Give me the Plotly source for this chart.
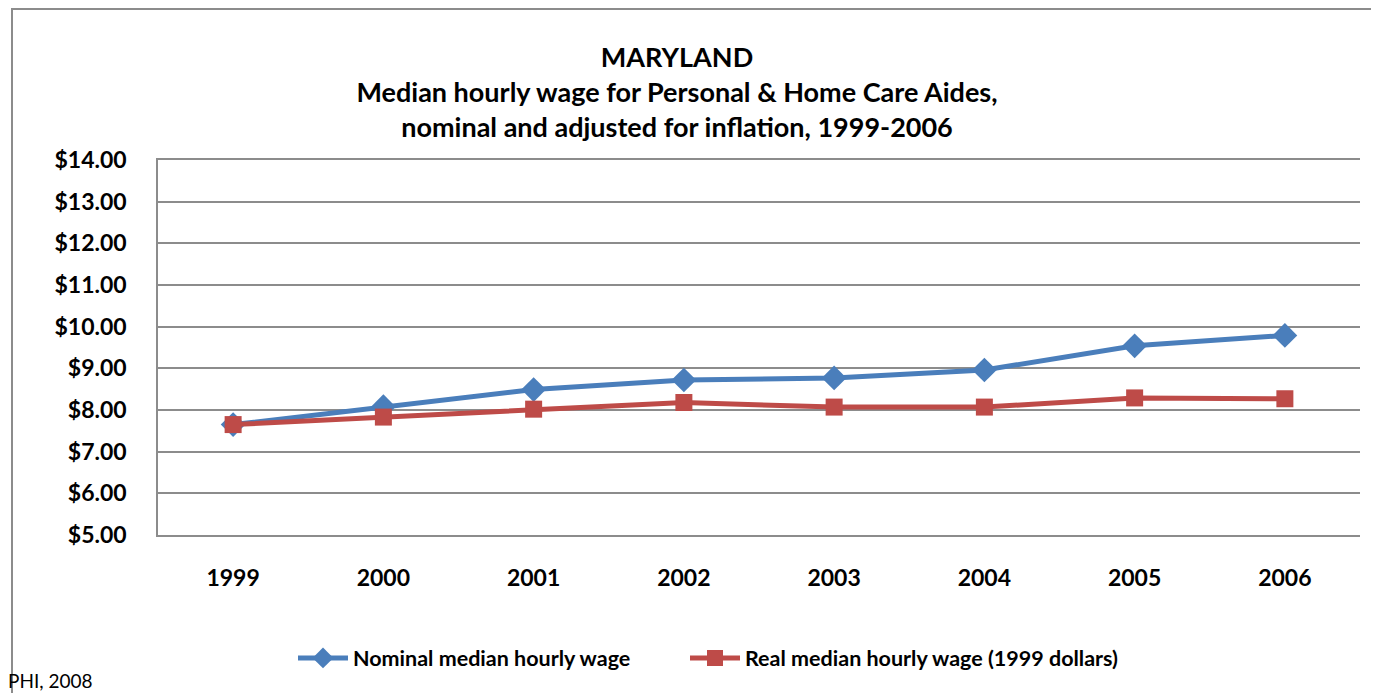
import plotly.graph_objects as go

years = ["1999", "2000", "2001", "2002", "2003", "2004", "2005", "2006"]
nominal = [7.65, 8.08, 8.49, 8.72, 8.77, 8.96, 9.54, 9.79]
real = [7.65, 7.83, 8.02, 8.18, 8.07, 8.07, 8.29, 8.27]
yticks = [5, 6, 7, 8, 9, 10, 11, 12, 13, 14]
ytick_text = ["$%.2f" % v for v in yticks]

FONT = "Lato"
GRAY = "#8C8C8C"

# plot area in container pixels (page is offset by ~8px body margin)
L, R, T, B = 150, 27, 152, 166
W, H = 1379, 693
PW, PH = W - L - R, H - T - B

fig = go.Figure()
fig.add_trace(go.Scatter(
    x=years, y=nominal, name="Nominal median hourly wage",
    mode="lines+markers", legend="legend",
    line=dict(color="#4A7EBB", width=5),
    marker=dict(symbol="diamond", size=19, color="#4A7EBB"),
))
fig.add_trace(go.Scatter(
    x=years, y=real, name="Real median hourly wage (1999 dollars)",
    mode="lines+markers", legend="legend2",
    line=dict(color="#BE4B48", width=5),
    marker=dict(symbol="square", size=17, color="#BE4B48"),
))

legend_font = dict(size=21.5, family=FONT, color="black", weight="bold")

fig.update_layout(
    width=W, height=H,
    margin=dict(l=L, r=R, t=T, b=B),
    paper_bgcolor="white", plot_bgcolor="white",
    font=dict(family=FONT, color="black"),
    title=dict(
        text="<b>MARYLAND<br>Median hourly wage for Personal & Home Care Aides,<br>nominal and adjusted for inflation, 1999-2006</b>",
        x=669 / W, xanchor="center", y=1 - 59 / H, yanchor="top",
        font=dict(size=27, family=FONT, color="black"),
    ),
    showlegend=True,
    legend=dict(
        orientation="h", x=285 / W, xanchor="left", xref="container",
        y=1 - 650 / H, yanchor="middle", yref="container",
        font=legend_font, itemwidth=50,
    ),
    legend2=dict(
        orientation="h", x=677 / W, xanchor="left", xref="container",
        y=1 - 650 / H, yanchor="middle", yref="container",
        font=legend_font, itemwidth=50,
    ),
    xaxis=dict(
        type="category", range=[-0.5, 7.5], showgrid=False,
        showline=True, mirror=True, linecolor=GRAY, linewidth=1.5,
        ticks="",
        tickfont=dict(size=23, family=FONT, weight="bold"),
        ticklabelstandoff=22,
    ),
    yaxis=dict(
        range=[5, 14], tickvals=yticks, ticktext=ytick_text,
        showgrid=True, gridcolor=GRAY, gridwidth=1.5,
        showline=True, linecolor=GRAY, linewidth=1.5,
        zeroline=False, ticks="",
        tickfont=dict(size=23, family=FONT, weight="bold"),
        ticklabelstandoff=25,
    ),
)

# outer chart border
fig.add_shape(
    type="rect", xref="paper", yref="paper",
    x0=(4 - L) / PW, x1=(W + 20 - L) / PW,
    y0=(PH - (H + 20 - T)) / PH, y1=(PH - (1 - T)) / PH,
    line=dict(color=GRAY, width=2), fillcolor="rgba(0,0,0,0)",
    layer="below",
)

fig.add_annotation(
    text="PHI, 2008", xref="paper", yref="paper",
    x=(-2 - L) / PW, y=(PH - (672 - T)) / PH,
    xanchor="left", yanchor="middle", showarrow=False,
    font=dict(size=19, family=FONT, color="black"),
)

fig.write_html("out.html")
